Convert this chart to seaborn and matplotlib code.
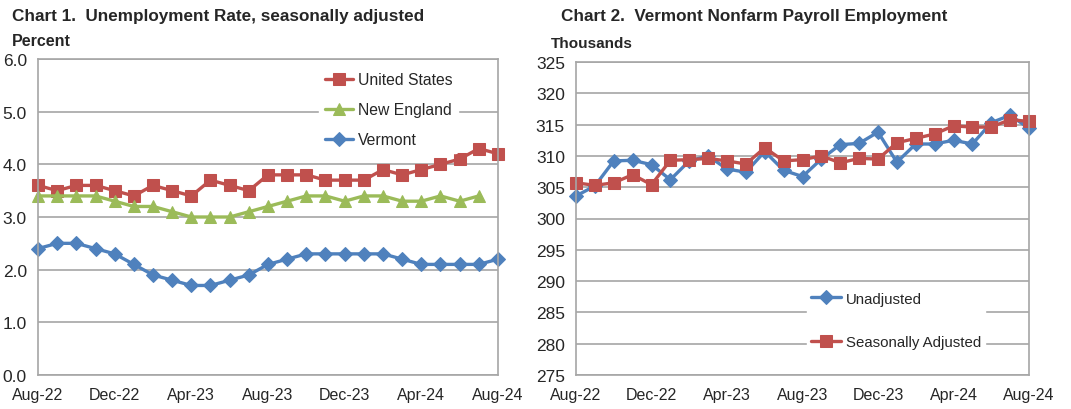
import numpy as np
import pandas as pd
import seaborn as sns
import matplotlib.pyplot as plt

# months Aug-22 .. Aug-24
months = ['Aug-22', 'Sep-22', 'Oct-22', 'Nov-22', 'Dec-22', 'Jan-23', 'Feb-23', 'Mar-23',
          'Apr-23', 'May-23', 'Jun-23', 'Jul-23', 'Aug-23', 'Sep-23', 'Oct-23', 'Nov-23',
          'Dec-23', 'Jan-24', 'Feb-24', 'Mar-24', 'Apr-24', 'May-24', 'Jun-24', 'Jul-24', 'Aug-24']
tick_labels = ['Aug-22', 'Dec-22', 'Apr-23', 'Aug-23', 'Dec-23', 'Apr-24', 'Aug-24']

# Chart 1 - unemployment rate
us = [3.6, 3.5, 3.6, 3.6, 3.5, 3.4, 3.6, 3.5, 3.4, 3.7, 3.6, 3.5, 3.8, 3.8, 3.8, 3.7,
      3.7, 3.7, 3.9, 3.8, 3.9, 4.0, 4.1, 4.3, 4.2]
new_england = [3.4, 3.4, 3.4, 3.4, 3.3, 3.2, 3.2, 3.1, 3.0, 3.0, 3.0, 3.1, 3.2, 3.3, 3.4, 3.4,
               3.3, 3.4, 3.4, 3.3, 3.3, 3.4, 3.3, 3.4, np.nan]
vermont = [2.4, 2.5, 2.5, 2.4, 2.3, 2.1, 1.9, 1.8, 1.7, 1.7, 1.8, 1.9, 2.1, 2.2, 2.3, 2.3,
           2.3, 2.3, 2.3, 2.2, 2.1, 2.1, 2.1, 2.1, 2.2]

# Chart 2 - nonfarm payroll (thousands)
unadjusted = [303.6, 305.2, 309.2, 309.3, 308.6, 306.2, 309.2, 310.0, 307.9, 307.4, 310.7, 307.7,
              306.7, 309.5, 311.8, 312.0, 313.8, 309.0, 311.9, 311.9, 312.5, 311.9, 315.3, 316.5, 314.4]
seas_adj = [305.7, 305.3, 305.7, 307.0, 305.4, 309.3, 309.4, 309.6, 309.2, 308.7, 311.3, 309.2,
            309.4, 310.0, 308.9, 309.6, 309.5, 312.1, 312.8, 313.5, 314.8, 314.6, 314.6, 315.8, 315.5]

RED = '#C0504D'
GREEN = '#9BBB59'
BLUE = '#4F81BD'

sns.set_style('white')
plt.rcParams['font.family'] = ['Liberation Sans', 'DejaVu Sans']

df1 = pd.DataFrame({'x': np.arange(len(months)), 'us': us, 'ne': new_england, 'vt': vermont})
df2 = pd.DataFrame({'x': np.arange(len(months)), 'un': unadjusted, 'sa': seas_adj})

fig = plt.figure(figsize=(10.71, 4.10), dpi=100)
ax1 = fig.add_axes([38 / 1071, 34 / 410, 460 / 1071, 316 / 410])
ax2 = fig.add_axes([576 / 1071, 34 / 410, 453 / 1071, 313 / 410])

lw = 2.4
kw = dict(lw=lw, clip_on=False)
sns.lineplot(data=df1, x='x', y='us', ax=ax1, color=RED, marker='s', markersize=8,
             markeredgecolor=RED, label='United States', **kw)
sns.lineplot(data=df1.dropna(), x='x', y='ne', ax=ax1, color=GREEN, marker='^', markersize=9,
             markeredgecolor=GREEN, label='New England', **kw)
sns.lineplot(data=df1, x='x', y='vt', ax=ax1, color=BLUE, marker='D', markersize=7,
             markeredgecolor=BLUE, label='Vermont', **kw)

sns.lineplot(data=df2, x='x', y='un', ax=ax2, color=BLUE, marker='D', markersize=7,
             markeredgecolor=BLUE, label='Unadjusted', **kw)
sns.lineplot(data=df2, x='x', y='sa', ax=ax2, color=RED, marker='s', markersize=8,
             markeredgecolor=RED, label='Seasonally Adjusted', **kw)

for ax in (ax1, ax2):
    ax.set_xlim(0, 24)
    ax.set_xticks(np.arange(0, 25, 4))
    ax.set_xticklabels(tick_labels, fontsize=11.5)
    ax.set_xlabel('')
    ax.set_ylabel('')
    ax.grid(axis='y', color='#A6A6A6', lw=1.2)
    ax.set_axisbelow(True)
    for s in ax.spines.values():
        s.set_color('#A6A6A6')
        s.set_linewidth(1.2)
    ax.tick_params(axis='x', direction='out', length=5, color='#A6A6A6', pad=4)
    ax.tick_params(axis='y', direction='out', length=5, color='#A6A6A6', labelsize=12.5, pad=3)

ax1.set_ylim(0, 6)
ax1.set_yticks(np.arange(0, 6.1, 1))
ax1.set_yticklabels([f'{v:.1f}' for v in np.arange(0, 6.1, 1)])
ax1.set_yticks(np.arange(0.5, 6, 1), minor=True)
ax1.tick_params(axis='y', which='minor', direction='out', length=4, color='#A6A6A6')

ax2.set_ylim(275, 325)
ax2.set_yticks(np.arange(275, 326, 5))

leg1 = ax1.legend(loc='upper right', bbox_to_anchor=(0.93, 1.0), frameon=True, fontsize=11.3,
                  handlelength=1.8, labelspacing=0.95, handletextpad=0.3, borderpad=0.35)
leg1.get_frame().set_edgecolor('white')
leg1.get_frame().set_alpha(1)
leg2 = ax2.legend(loc='lower right', bbox_to_anchor=(0.92, 0.045), frameon=True, fontsize=10.8,
                  handlelength=2.0, labelspacing=1.95, handletextpad=0.3, borderpad=0.3)
leg2.get_frame().set_edgecolor('white')
leg2.get_frame().set_alpha(1)

fig.text(12 / 1071, 1 - 16 / 410, 'Chart 1.  Unemployment Rate, seasonally adjusted',
         fontsize=12.3, fontweight='bold', va='center')
fig.text(12 / 1071, 1 - 42 / 410, 'Percent', fontsize=11.5, fontweight='bold', va='center')
fig.text(561 / 1071, 1 - 16 / 410, 'Chart 2.  Vermont Nonfarm Payroll Employment',
         fontsize=12.3, fontweight='bold', va='center')
fig.text(551 / 1071, 1 - 44 / 410, 'Thousands', fontsize=11, fontweight='bold', va='center')

fig.savefig('out.png', dpi=100)
